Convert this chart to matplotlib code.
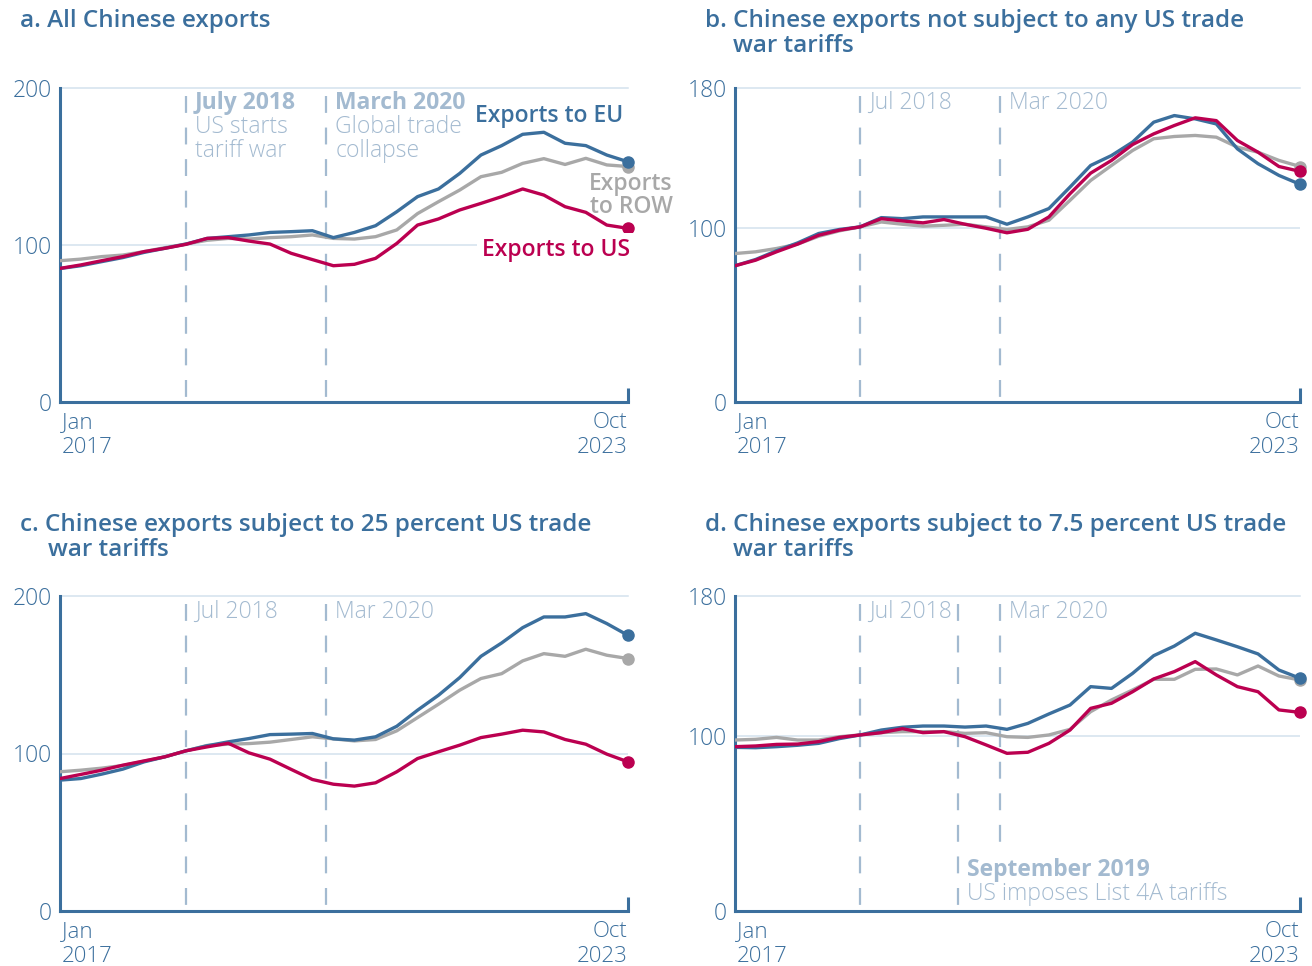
import matplotlib
matplotlib.use('Agg')
import matplotlib.pyplot as plt
import pandas as pd

plt.rcParams['font.family'] = ['Open Sans', 'DejaVu Sans']

# ---------------- data (quarterly readings, Jan 2017 .. Oct 2023) ----------------
dates = pd.date_range('2017-01-01', '2023-10-01', freq='3MS')

a_eu = [85, 86.8, 89.4, 92, 95.3, 97.9, 100.6, 104.2, 105.3, 106.4, 108, 108.5, 109.1, 104.7,
        108, 112.3, 121.2, 130.8, 135.7, 145.6, 157.3, 163.3, 170.5, 171.8, 164.8, 163.3, 157.3, 153]
a_row = [90, 91, 92.6, 93.6, 95.8, 98.3, 100.6, 103, 104.2, 103.8, 104.7, 105.3, 106.4, 104.2,
         103.8, 105.3, 109.6, 120, 127.6, 135, 143.5, 146.3, 152, 155, 151.3, 155.2, 151, 150]
a_us = [85.1, 87.3, 90, 92.6, 95.8, 97.9, 100.4, 104.2, 104.7, 102.5, 100.6, 94.7, 90.7, 86.8,
        87.7, 91.5, 101, 112.7, 116.6, 122.3, 126.5, 130.8, 135.7, 131.8, 124.4, 120.8, 112.7, 110.6]

b_eu = [78.1, 81.7, 86.7, 91.2, 96.6, 98.9, 100.4, 105.7, 105.1, 106.1, 106.1, 106.1, 106.1, 101.9,
        106.1, 110.9, 123.2, 135.6, 141.3, 149, 160.4, 164.2, 162.3, 159.4, 145.1, 136.6, 129.9, 124.8]
b_row = [85.1, 86.1, 88, 90.5, 95, 98.1, 100.4, 103.2, 101.9, 100.8, 101.3, 101.9, 100.4, 98.9,
         100.4, 104.2, 115.6, 127, 135.6, 144.2, 150.9, 152.2, 152.8, 151.8, 146.1, 143.2, 138.5, 135]
b_us = [78.1, 81.3, 86.1, 90.5, 95.6, 98.5, 100.4, 105.1, 103.8, 102.7, 104.6, 101.9, 99.6, 97,
        99, 106.1, 119.4, 131.2, 138.5, 147.6, 153.7, 158.5, 162.9, 161.3, 149.9, 143.2, 135, 132.2]

c_eu = [83.1, 84.1, 86.9, 90.1, 94.7, 97.9, 101.7, 104.9, 107.4, 109.5, 112, 112.3, 112.7, 109.3,
        108.5, 110.6, 117.3, 127.5, 137, 148.2, 161.7, 170.2, 179.9, 186.7, 186.7, 188.8, 182.5, 175]
c_row = [88.4, 89.4, 90.7, 92.4, 95.1, 97.9, 101.7, 105.1, 105.9, 106.3, 107.2, 108.9, 110.6, 109.3,
         108, 108.9, 114.4, 122.8, 131.3, 140.2, 147.6, 150.7, 158.8, 163.4, 161.7, 166.2, 162.4, 160.3]
c_us = [84.1, 86.7, 89.4, 92.6, 95.3, 97.9, 101.7, 104.2, 106.5, 100.4, 96.4, 89.9, 83.5, 80.5,
        79.3, 81.4, 88.4, 96.8, 101.1, 105.3, 110.1, 112.3, 114.8, 113.7, 108.9, 105.9, 99.6, 94.7]

d_eu = [93.5, 93.3, 93.9, 94.7, 95.8, 98.5, 100.6, 103.4, 105, 105.7, 105.7, 105.1, 105.7, 103.8,
        107.2, 112.6, 117.7, 128.2, 127.2, 135.8, 145.9, 151.4, 158.7, 154.9, 151, 146.9, 137.7, 133]
d_row = [97.7, 98.1, 99.2, 97.7, 97.7, 99.6, 100.6, 101.9, 102.5, 102.5, 102.5, 101.5, 101.9, 99.6,
         99.2, 100.6, 103.8, 113.9, 120.6, 126.3, 132.4, 132.4, 138.1, 138.3, 134.9, 140, 134.3, 132]
d_us = [93.9, 94.3, 95.2, 95.4, 96.8, 99.2, 100.6, 101.9, 104.2, 101.9, 102.5, 99.6, 94.9, 90.1,
        90.7, 95.8, 103.4, 115.8, 118.7, 125.3, 132.6, 136.8, 142.5, 134.9, 128.2, 125.3, 114.9, 113.5]

ymax_list = [200, 180, 200, 180]
titles = [["a. All Chinese exports"],
          ["b. Chinese exports not subject to any US trade", "war tariffs"],
          ["c. Chinese exports subject to 25 percent US trade", "war tariffs"],
          ["d. Chinese exports subject to 7.5 percent US trade", "war tariffs"]]
event_dates = {'jul18': pd.Timestamp('2018-07-01'), 'mar20': pd.Timestamp('2020-03-01'),
               'sep19': pd.Timestamp('2019-09-01')}

# ---------------- style ----------------
BLUE = '#3b6f9d'
GRAY = '#a8a8a8'
RED = '#bb0050'
ANN = '#a3bad0'
GRID = '#d3e1ee'
FS = 16

W, H = 1312, 966
fig = plt.figure(figsize=(W / 100, H / 100), dpi=100)


def rect(l, t, r, b):
    return [l / W, (H - b) / H, (r - l) / W, (b - t) / H]


boxes = [(60, 88, 628, 402), (735, 88, 1300, 402), (60, 596, 628, 911), (735, 596, 1300, 911)]
series = [(a_eu, a_row, a_us), (b_eu, b_row, b_us), (c_eu, c_row, c_us), (d_eu, d_row, d_us)]
title_pos = [(20, 21), (705, 21), (20, 525), (705, 525)]

axes = []
for i, (box, (eu, row, us), ymax) in enumerate(zip(boxes, series, ymax_list)):
    ax = fig.add_axes(rect(*box))
    axes.append(ax)
    ax.set_xlim(dates[0], dates[-1])
    ax.set_ylim(0, ymax)
    for s in ['top', 'right']:
        ax.spines[s].set_visible(False)
    for s in ['left', 'bottom']:
        ax.spines[s].set_color(BLUE)
        ax.spines[s].set_linewidth(2.2)
    ax.axhline(100, color=GRID, lw=1.1, zorder=0)
    ax.axhline(ymax, color=GRID, lw=1.1, zorder=0, clip_on=False)
    ax.set_yticks([0, 100, ymax])
    ax.set_yticklabels(['0', '100', str(ymax)], fontweight='light')
    ax.tick_params(axis='y', length=0, pad=6, labelsize=FS + 0.5, labelcolor=BLUE)
    ax.set_xticks([dates[-1]])
    ax.set_xticklabels([''])
    ax.tick_params(axis='x', direction='in', length=10, width=2.2, color=BLUE)

    ax.plot(dates, row, color=GRAY, lw=2.4, zorder=3, solid_joinstyle='round')
    ax.plot(dates, eu, color=BLUE, lw=2.4, zorder=4, solid_joinstyle='round')
    ax.plot(dates, us, color=RED, lw=2.4, zorder=5, solid_joinstyle='round')
    ax.plot(dates[-1], row[-1], 'o', color=GRAY, ms=8, zorder=3, clip_on=False)
    ax.plot(dates[-1], eu[-1], 'o', color=BLUE, ms=8, zorder=4, clip_on=False)
    ax.plot(dates[-1], us[-1], 'o', color=RED, ms=8, zorder=5, clip_on=False)

    # x-axis end labels
    for txt, dy in (("Jan", -14.5), ("2017", -32.5)):
        ax.annotate(txt, xy=(0, 0), xycoords='axes fraction', xytext=(1.5, dy),
                    textcoords='offset points', ha='left', va='center', fontsize=FS,
                    fontweight='light', color=BLUE)
    for txt, dy in (("Oct", -14.5), ("2023", -32.5)):
        ax.annotate(txt, xy=(1, 0), xycoords='axes fraction', xytext=(0, dy),
                    textcoords='offset points', ha='right', va='center', fontsize=FS,
                    fontweight='light', color=BLUE)

    # titles
    tx, ty = title_pos[i]
    fig.text(tx / W, 1 - ty / H, titles[i][0], ha='left', va='center', fontsize=17.5,
             fontweight='semibold', color=BLUE)
    if len(titles[i]) > 1:
        fig.text((tx + 28) / W, 1 - (ty + 25) / H, titles[i][1], ha='left', va='center',
                 fontsize=17.5, fontweight='semibold', color=BLUE)


def vline(ax, d, top=0.975, bottom=0.0):
    ax.plot([d, d], [top, bottom], transform=ax.get_xaxis_transform(), color=ANN, lw=1.6,
            linestyle=(0, (7.6, 6.6)), zorder=1)


def note(ax, d, yfrac, txt, bold=False, size=FS + 0.5):
    ax.annotate(txt, xy=(d, yfrac), xycoords=('data', 'axes fraction'), xytext=(6.5, 0),
                textcoords='offset points', ha='left', va='center', fontsize=size,
                fontweight='bold' if bold else 'light', color=ANN, zorder=6)


# panel a
ax = axes[0]
vline(ax, event_dates['jul18'])
vline(ax, event_dates['mar20'])
note(ax, event_dates['jul18'], 0.952, "July 2018", bold=True)
note(ax, event_dates['jul18'], 0.876, "US starts")
note(ax, event_dates['jul18'], 0.799, "tariff war")
note(ax, event_dates['mar20'], 0.952, "March 2020", bold=True)
note(ax, event_dates['mar20'], 0.876, "Global trade")
note(ax, event_dates['mar20'], 0.799, "collapse")
ax.text(0.991, 0.911, "Exports to EU", transform=ax.transAxes, ha='right', va='center',
        fontsize=FS + 0.5, fontweight='semibold', color=BLUE, zorder=7)
ax.text(1.079, 0.658, "Exports\nto ROW", transform=ax.transAxes, ha='right', va='center',
        fontsize=FS + 0.5, fontweight='semibold', color=GRAY, linespacing=0.95,
        multialignment='right', clip_on=False, zorder=7)
ax.text(1.004, 0.484, "Exports to US", transform=ax.transAxes, ha='right', va='center',
        fontsize=FS + 0.5, fontweight='semibold', color=RED, zorder=7,
        bbox=dict(facecolor='white', edgecolor='none', pad=4))

# panel b
ax = axes[1]
vline(ax, event_dates['jul18'])
vline(ax, event_dates['mar20'])
note(ax, event_dates['jul18'], 0.952, "Jul 2018")
note(ax, event_dates['mar20'], 0.952, "Mar 2020")

# panel c
ax = axes[2]
vline(ax, event_dates['jul18'])
vline(ax, event_dates['mar20'])
note(ax, event_dates['jul18'], 0.949, "Jul 2018")
note(ax, event_dates['mar20'], 0.949, "Mar 2020")

# panel d
ax = axes[3]
vline(ax, event_dates['jul18'])
vline(ax, event_dates['sep19'])
vline(ax, event_dates['mar20'], bottom=0.19)
note(ax, event_dates['jul18'], 0.949, "Jul 2018")
note(ax, event_dates['mar20'], 0.949, "Mar 2020")
note(ax, event_dates['sep19'], 0.130, "September 2019", bold=True)
note(ax, event_dates['sep19'], 0.054, "US imposes List 4A tariffs")

fig.savefig('out.png', dpi=100, facecolor='white')
